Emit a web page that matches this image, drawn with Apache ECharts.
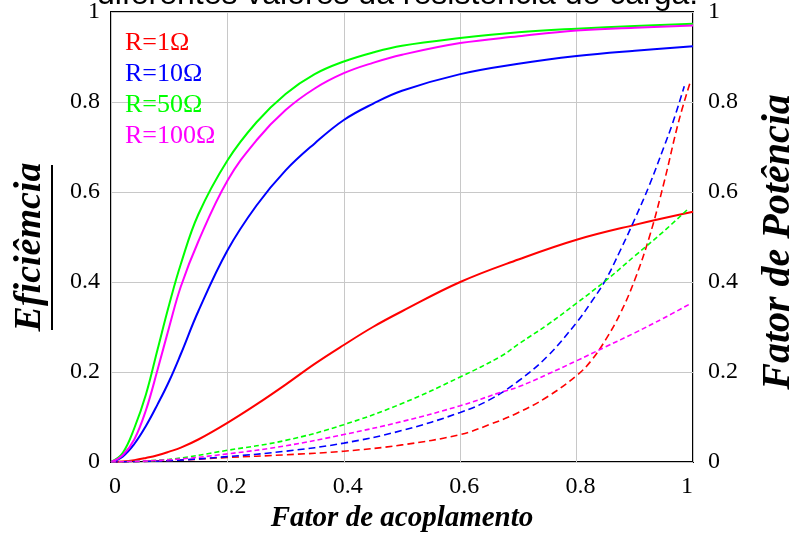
<!DOCTYPE html>
<html>
<head>
<meta charset="utf-8">
<script src="https://cdn.jsdelivr.net/npm/echarts@6/dist/echarts.min.js"></script>
<style>
  html, body { margin: 0; padding: 0; background: #fff; }
  #chart { width: 795px; height: 537px; }
</style>
</head>
<body>
<div id="chart"></div>
<script>
// coupling factor (x) for the efficiency curves
const kSolid = [0, 0.02, 0.04, 0.06, 0.08, 0.1, 0.12, 0.15, 0.2, 0.25, 0.3, 0.35, 0.4, 0.45, 0.5, 0.6, 0.7, 0.8, 0.9, 1.0];
const effR1   = [0, 0.001, 0.004, 0.009, 0.015, 0.023, 0.032, 0.05, 0.087, 0.128, 0.172, 0.218, 0.26, 0.30, 0.335, 0.40, 0.45, 0.494, 0.527, 0.556];
const effR10  = [0, 0.012, 0.04, 0.08, 0.128, 0.18, 0.24, 0.335, 0.47, 0.57, 0.648, 0.708, 0.76, 0.796, 0.825, 0.862, 0.885, 0.902, 0.914, 0.924];
const effR50  = [0, 0.02, 0.075, 0.15, 0.25, 0.35, 0.44, 0.55, 0.67, 0.755, 0.818, 0.862, 0.89, 0.91, 0.925, 0.942, 0.955, 0.963, 0.969, 0.974];
const effR100 = [0, 0.015, 0.05, 0.115, 0.205, 0.30, 0.39, 0.49, 0.625, 0.715, 0.782, 0.83, 0.864, 0.887, 0.905, 0.931, 0.946, 0.959, 0.965, 0.97];

// power factor curves (dashed, right axis)
const kFpR1  = [0, 0.1, 0.2, 0.3, 0.4, 0.5, 0.6, 0.65, 0.7, 0.75, 0.8, 0.825, 0.85, 0.875, 0.9, 0.925, 0.95, 0.975, 0.995];
const fpR1   = [0, 0.003, 0.01, 0.016, 0.024, 0.038, 0.061, 0.083, 0.11, 0.145, 0.192, 0.225, 0.272, 0.33, 0.405, 0.5, 0.62, 0.755, 0.843];
const kFpR10 = [0, 0.1, 0.2, 0.3, 0.4, 0.5, 0.6, 0.65, 0.7, 0.75, 0.8, 0.825, 0.85, 0.875, 0.9, 0.925, 0.95, 0.965, 0.985];
const fpR10  = [0, 0.003, 0.012, 0.024, 0.042, 0.07, 0.11, 0.138, 0.18, 0.235, 0.31, 0.355, 0.405, 0.47, 0.54, 0.615, 0.70, 0.753, 0.835];
const kFp    = [0, 0.1, 0.2, 0.3, 0.4, 0.5, 0.6, 0.67, 0.7, 0.75, 0.8, 0.85, 0.9, 0.95, 0.993];
const fpR50  = [0, 0.006, 0.026, 0.048, 0.083, 0.13, 0.189, 0.235, 0.262, 0.305, 0.353, 0.403, 0.458, 0.513, 0.564];
const fpR100 = [0, 0.005, 0.018, 0.036, 0.061, 0.09, 0.125, 0.155, 0.167, 0.195, 0.225, 0.256, 0.287, 0.32, 0.35];

const legendNames = ['R=1Ω', 'R=10Ω', 'R=50Ω', 'R=100Ω'];
const colors = ['#ff0000', '#0000ff', '#00ff00', '#ff00ff'];

const serif = "'Liberation Serif', 'Times New Roman', serif";

function pairs(xs, ys) {
    return xs.map((x, i) => [x, ys[i]]);
}

const chart = echarts.init(document.getElementById('chart'));

const solid = [effR1, effR10, effR50, effR100].map((vals, i) => ({
    name: legendNames[i],
    type: 'line',
    data: pairs(kSolid, vals),
    showSymbol: false,
    smooth: 0.4,
    lineStyle: { color: colors[i], width: 2 },
    itemStyle: { color: colors[i] },
    z: 3
}));

const dashed = [[kFpR1, fpR1], [kFpR10, fpR10], [kFp, fpR50], [kFp, fpR100]].map((d, i) => ({
    name: 'FP ' + legendNames[i],
    type: 'line',
    yAxisIndex: 1,
    data: pairs(d[0], d[1]),
    showSymbol: false,
    smooth: 0.4,
    lineStyle: { color: colors[i], width: 1.6, type: i < 2 ? [7, 4] : [5, 3] },
    itemStyle: { color: colors[i] },
    z: 3
}));

const option = {
    backgroundColor: '#fff',
    animation: false,
    title: {
        text: 'diferentes valores da resistência de carga.',
        left: 'center',
        top: -26,
        textStyle: { fontFamily: "'Liberation Sans', Arial, sans-serif", fontWeight: 'normal', fontSize: 32, color: '#000' }
    },
    legend: {
        data: legendNames.map((n, i) => ({ name: n, textStyle: { color: colors[i] } })),
        orient: 'vertical',
        left: 120,
        top: 30,
        padding: 0,
        itemWidth: 0,
        itemHeight: 0,
        itemGap: 5,
        icon: 'none',
        selectedMode: false,
        textStyle: { fontFamily: serif, fontSize: 26 }
    },
    grid: {
        left: 111,
        right: 102,
        top: 12,
        bottom: 75,
        outerBoundsMode: 'none',
        show: true,
        borderColor: '#000',
        borderWidth: 2
    },
    xAxis: {
        type: 'value',
        min: 0,
        max: 1,
        interval: 0.2,
        name: 'Fator de acoplamento',
        nameLocation: 'middle',
        nameGap: 40,
        nameTextStyle: { fontFamily: serif, fontSize: 29, fontWeight: 'bold', fontStyle: 'italic', color: '#000' },
        axisLine: { show: false },
        axisTick: { show: false },
        axisLabel: { fontFamily: serif, fontSize: 24, color: '#000', margin: 13, padding: [0, 0, 0, 8], alignMaxLabel: 'right' },
        splitLine: { lineStyle: { color: '#c8c8c8', width: 1 } }
    },
    yAxis: [
        {
            type: 'value',
            min: 0,
            max: 1,
            interval: 0.2,
            name: 'Eficiêmcia',
            nameLocation: 'middle',
            nameRotate: 90,
            nameGap: 62,
            nameTextStyle: { fontFamily: serif, fontSize: 38, fontWeight: 'bold', fontStyle: 'italic', color: '#000', padding: [0, 20, 0, 0] },
            axisLine: { show: false },
            axisTick: { show: false },
            axisLabel: { fontFamily: serif, fontSize: 24, color: '#000', margin: 11 },
            splitLine: { lineStyle: { color: '#c8c8c8', width: 1 } }
        },
        {
            type: 'value',
            min: 0,
            max: 1,
            interval: 0.2,
            position: 'right',
            name: 'Fator de Potência',
            nameLocation: 'middle',
            nameRotate: 90,
            nameGap: 66,
            nameTextStyle: { fontFamily: serif, fontSize: 40, fontWeight: 'bold', fontStyle: 'italic', color: '#000', padding: [0, 10, 0, 0] },
            axisLine: { show: false },
            axisTick: { show: false },
            axisLabel: { fontFamily: serif, fontSize: 24, color: '#000', margin: 15 },
            splitLine: { show: false }
        }
    ],
    graphic: [
        {
            type: 'line',
            shape: { x1: 52, y1: 165, x2: 52, y2: 330 },
            style: { stroke: '#000', lineWidth: 2 }
        }
    ],
    series: solid.concat(dashed)
};

chart.setOption(option);
</script>
</body>
</html>
